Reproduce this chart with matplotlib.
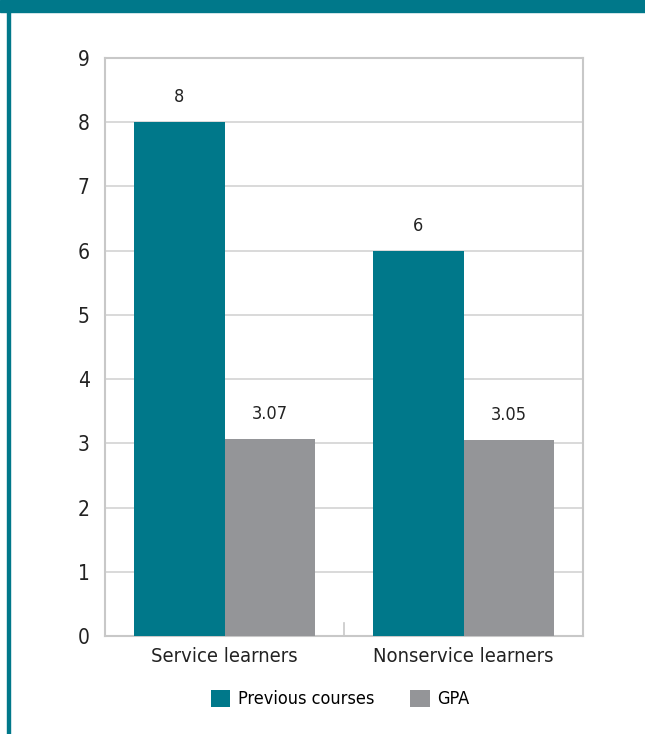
import matplotlib.pyplot as plt
from matplotlib.patches import Rectangle
import numpy as np

# Data
categories = ["Service learners", "Nonservice learners"]
previous_courses = [8, 6]
gpa = [3.07, 3.05]
value_labels_prev = ["8", "6"]
value_labels_gpa = ["3.07", "3.05"]

teal = "#00788a"
grey = "#949598"
plt.rcParams['font.family'] = ['DejaVu Sans']
plt.rcParams['font.stretch'] = 'condensed'

fig = plt.figure(figsize=(6.45, 7.34), dpi=100)

# Frame decoration: top band and left rule
fig.patches.append(Rectangle((0, 1 - 12 / 734), 1, 12 / 734, transform=fig.transFigure,
                             color=teal, zorder=0))
fig.patches.append(Rectangle((7 / 645, 0), 3 / 645, 1, transform=fig.transFigure,
                             color=teal, zorder=0))

ax = fig.add_axes([105 / 645, 98 / 734, 478 / 645, 578 / 734])

x = np.arange(len(categories))
w = 0.377
b1 = ax.bar(x - w / 2, previous_courses, w, color=teal, label="Previous courses", zorder=3)
b2 = ax.bar(x + w / 2, gpa, w, color=grey, label="GPA", zorder=3)

for rect, lab in zip(b1, value_labels_prev):
    ax.text(rect.get_x() + rect.get_width() / 2, rect.get_height() + 0.25, lab,
            ha="center", va="bottom", fontsize=13, color="#222222")
for rect, lab in zip(b2, value_labels_gpa):
    ax.text(rect.get_x() + rect.get_width() / 2, rect.get_height() + 0.25, lab,
            ha="center", va="bottom", fontsize=13, color="#222222")

ax.set_xlim(-0.5, 1.5)
ax.set_ylim(0, 9)
ax.set_yticks(range(10))
ax.yaxis.grid(True, color="#d3d3d3", linewidth=1.2, zorder=0)
ax.set_axisbelow(True)

ax.set_xticks(x)
ax.set_xticklabels(categories, fontsize=14.5, color="#222222")
ax.tick_params(axis="x", length=0, pad=8)
ax.tick_params(axis="y", length=0, pad=11, labelsize=15, labelcolor="#222222")
# separator tick between groups
ax.plot([0.5, 0.5], [0, 0.2], color="#c8c8c8", linewidth=1.2, zorder=2, clip_on=False)

for side in ["left", "right", "bottom", "top"]:
    ax.spines[side].set_color("#c8c8c8")
    ax.spines[side].set_linewidth(1.5)

fig.legend(handles=[b1, b2], loc="center", bbox_to_anchor=(340 / 645, 1 - 699 / 734),
           ncol=2, frameon=False, fontsize=13, handlelength=1.1, handleheight=1.1,
           handletextpad=0.4, columnspacing=2.0)

fig.savefig("out.png", dpi=100)
